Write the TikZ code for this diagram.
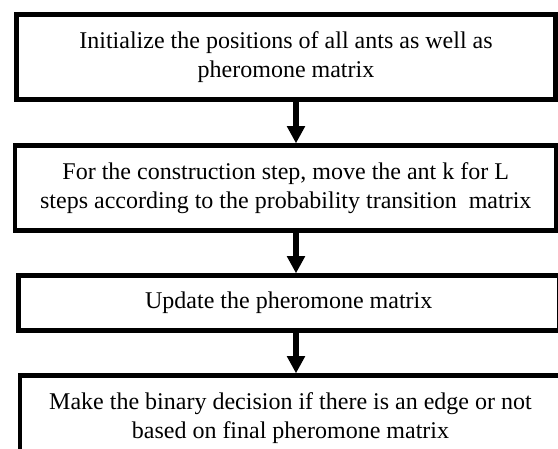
\documentclass[tikz,border=0pt]{standalone}
\usepackage{fontspec}
\setmainfont{Liberation Serif}
\usetikzlibrary{arrows.meta, positioning}

\begin{document}
\begin{tikzpicture}[x=0.75pt,y=-0.75pt,
		stepbox/.style={draw,line width=3.2pt,align=center,inner sep=0pt,font=\fontsize{18}{21.75}\selectfont},
		flow/.style={-{Triangle[width=13pt,length=13pt]},line width=4.5pt}]
			\clip (0,0) rectangle (558,449);
			\node[stepbox,minimum width=404.25pt,minimum height=63.75pt] (init) at (286,57) {Initialize the positions of all ants as well as\\pheromone matrix};
			\node[stepbox,minimum width=406pt,minimum height=63.75pt] (move) at (285.75,188) {For the construction step, move the ant k for L\\steps according to the probability transition\ \ matrix};
			\node[stepbox,minimum width=405.4pt,minimum height=41.25pt] (update) at (288.75,303) {Update the pheromone matrix};
			\node[stepbox,minimum width=405.75pt,minimum height=63.75pt] (decide) at (290.5,418) {Make the binary decision if there is an edge or not\\based on final pheromone matrix};
			\draw[flow] ([xshift=7.5pt]init.south) -- ([xshift=7.5pt]init.south |- move.north);
			\draw[flow] ([xshift=7.5pt]init.south |- move.south) -- ([xshift=7.5pt]init.south |- update.north);
			\draw[flow] ([xshift=7.5pt]init.south |- update.south) -- ([xshift=7.5pt]init.south |- decide.north);
		\end{tikzpicture}
\end{document}
